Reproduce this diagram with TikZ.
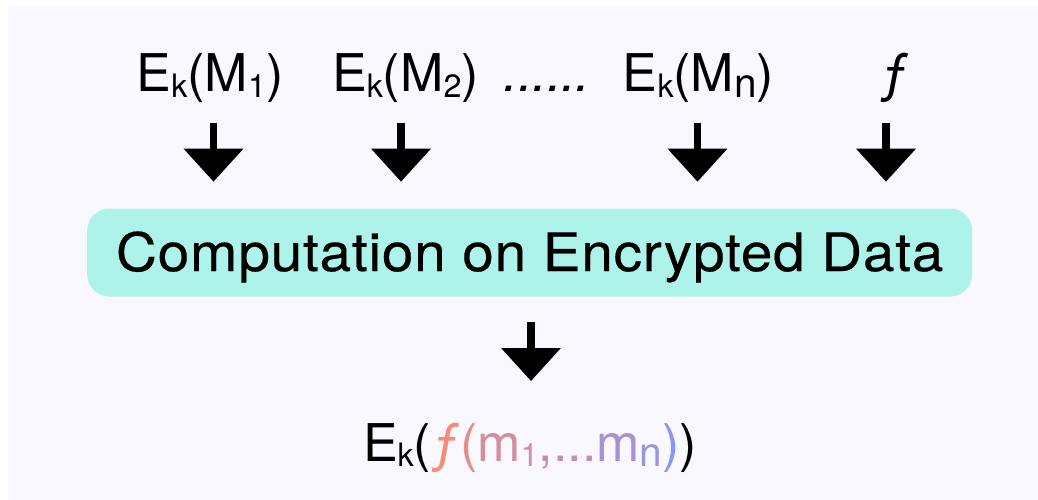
\documentclass[tikz,border=0pt]{standalone}
\usepackage{fontspec}
\setmainfont{TeX Gyre Heros}
\newfontfamily\widefont{TeX Gyre Heros}[FakeStretch=1.07,LetterSpace=1.5,FakeBold=0.4]
\usetikzlibrary{arrows.meta}

\definecolor{bgpaper}{RGB}{248,248,254}
\definecolor{boxfill}{RGB}{174,243,234}
\definecolor{fnA}{RGB}{245,140,118}
\definecolor{fnB}{RGB}{138,150,246}

\newcommand{\lowsub}[1]{\raisebox{-0.1em}{\scalebox{0.62}{#1}}}
\newcommand{\lownsub}{\raisebox{-0.1em}{\scalebox{0.78}{n}}}

\begin{document}
\begin{tikzpicture}[x=1pt,y=-1pt,
    lbl/.style={anchor=base,inner sep=0pt,font=\fontsize{52}{60}\selectfont},
    box/.style={fill=boxfill,rounded corners=22pt,minimum width=885pt,minimum height=88pt,
      text height=45pt,text depth=8pt,inner sep=0pt,
      font=\widefont\fontsize{53}{60}\selectfont},
    bigarrow/.style={line width=7.5pt,-{Triangle[width=58pt,length=33pt]}}]

    % background
    \useasboundingbox (0,0) rectangle (1038,500);
    \fill[white] (0,0) rectangle (1038,500);
    \fill[bgpaper] (8,7) rectangle (1038,500);

    % inputs
    \node[lbl] (m1) at (210,92) {E\lowsub{k}(M\lowsub{1})};
    \node[lbl] (m2) at (405.5,92) {E\lowsub{k}(M\lowsub{2})};
    \node[lbl] (dots) at (547,92) {\textit{......}};
    \node[lbl] (mn) at (698.5,92) {E\lowsub{k}(M\lownsub)};
    \node[lbl] (fn) at (895,92) {ƒ};

    \foreach \x/\n in {213.5/1,401/2,697.5/3,886/4} {
      \coordinate (in\n) at (\x,122.7);
      \coordinate (to\n) at (\x,181.7);
      \draw[bigarrow] (in\n) -- (to\n);
    }

    % computation
    \node[box] (comp) at (529.7,252.5) {Computation on Encrypted Data};

    \coordinate (cout) at (531,322.3);
    \coordinate (res) at (531,381);
    \draw[bigarrow] (cout) -- (res);

    % result
    \node[lbl] (out) at (530,461) {E\lowsub{k}({\color{fnA}ƒ}{\color{fnB!12!fnA}(}{\color{fnB!30!fnA}m}{\color{fnB!40!fnA}\lowsub{1}}{\color{fnB!50!fnA},...}{\color{fnB!72!fnA}m}{\color{fnB!85!fnA}\lownsub}{\color{fnB})})};

\end{tikzpicture}
\end{document}
